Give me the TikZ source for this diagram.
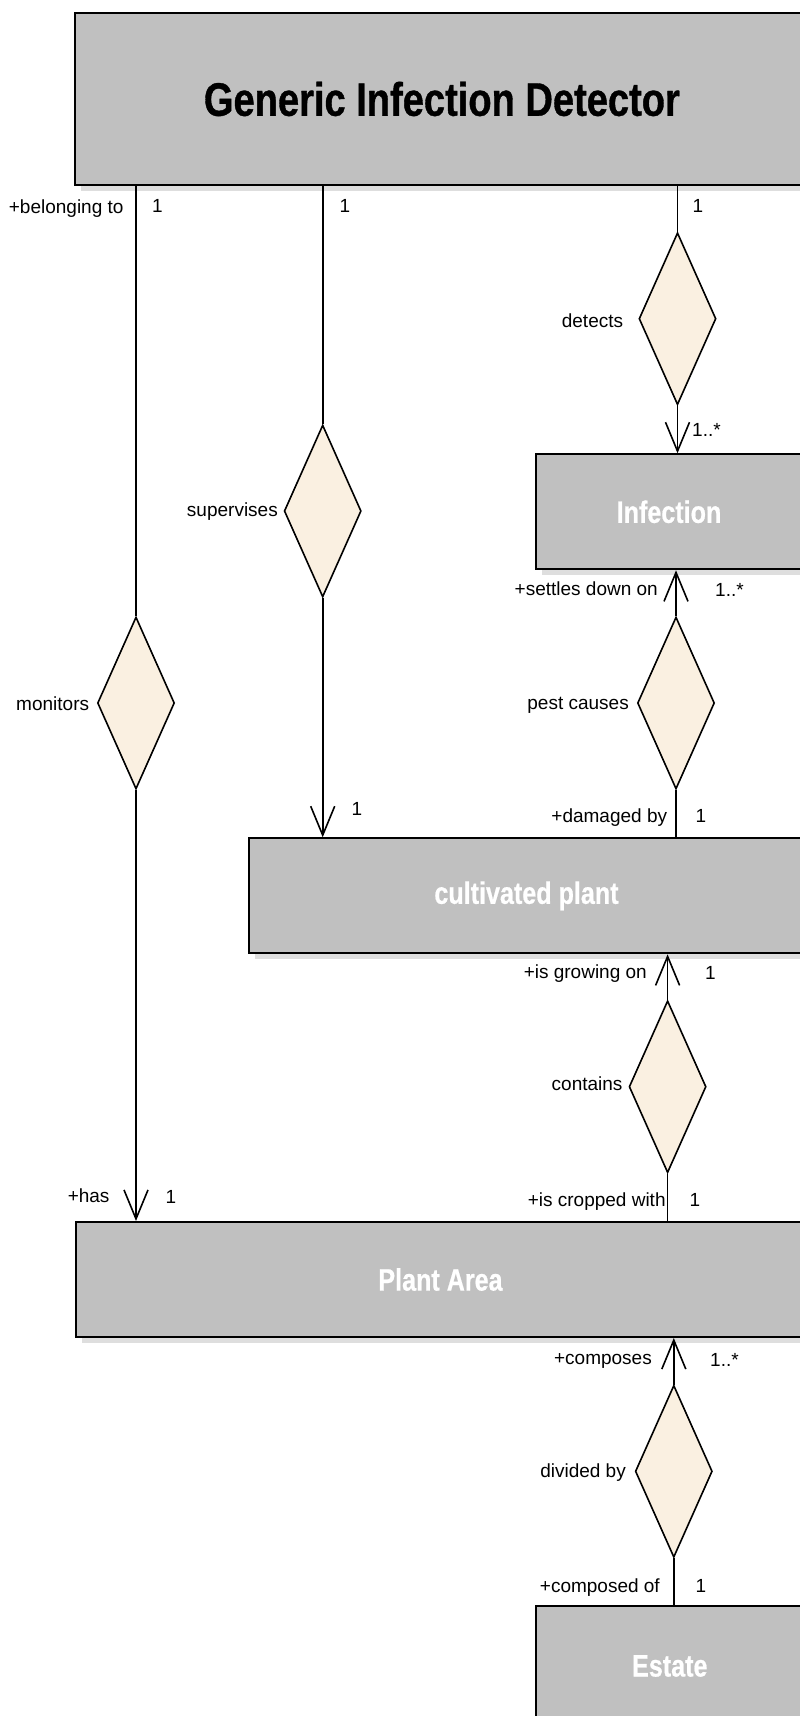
\documentclass[tikz,border=0pt]{standalone}
\usepackage{fontspec}
\setmainfont{Liberation Sans}
\newfontfamily\condA[FakeStretch=0.81,FakeBold=0.6]{Liberation Sans}
\newfontfamily\condB[FakeStretch=0.81,FakeBold=0.8]{Liberation Sans}
\usetikzlibrary{shapes.geometric,arrows.meta,shadows}
\definecolor{boxgray}{RGB}{192,192,192}
\definecolor{shadowgray}{RGB}{222,222,222}
\definecolor{cream}{RGB}{250,240,225}
\tikzset{
  cls/.style={rectangle, draw=black, line width=2pt, fill=boxgray, inner sep=0pt, anchor=north west,
    drop shadow={shadow xshift=6pt, shadow yshift=-6pt, fill=shadowgray, opacity=1}},
  clstext/.style={text=white, font=\condA\bfseries\fontsize{31}{31}\selectfont},
  rel/.style={diamond, draw=black, line width=1.6pt, fill=cream, inner sep=0pt, minimum width=77pt, minimum height=172pt},
  conn/.style={draw=black, line width=1.6pt},
  arr/.style={conn, -{Straight Barb[length=29pt, width=24pt]}},
  lbl/.style={inner sep=0pt, font=\fontsize{19}{19}\selectfont, text height=14pt, text depth=4pt},
}
\begin{document}
\begin{tikzpicture}[x=1pt, y=-1pt]
\useasboundingbox (0,0) rectangle (800,1716);
\clip (0,0) rectangle (800,1716);
\fill[white] (0,0) rectangle (800,1716);

% classes
\node[cls, minimum width=733pt, minimum height=172pt, font=\condB\bfseries\fontsize{47}{47}\selectfont] (gid) at (74.4,12) {Generic Infection Detector};
\node[cls, clstext, minimum width=265.4pt, minimum height=115pt] (inf) at (535.3,453.3) {Infection};
\node[cls, clstext, minimum width=555pt, minimum height=115pt] (cp) at (248,837.3) {cultivated plant};
\node[cls, clstext, minimum width=729pt, minimum height=115pt] (pa) at (75,1221) {Plant Area};
\node[cls, clstext, minimum width=267pt, minimum height=120pt] (est) at (535.3,1605) {Estate};

% relations
\node[rel] (mon) at (136,703) {};
\node[rel] (sup) at (322.7,511) {};
\node[rel] (det) at (677.5,318.7) {};
\node[rel] (pest) at (676,703) {};
\node[rel] (cont) at (667.6,1086.7) {};
\node[rel] (div) at (673.8,1471.3) {};

% connectors
\draw[conn] (mon.north |- gid.south) -- (mon.north);
\draw[arr] (mon.south) -- (mon.south |- pa.north);
\draw[conn] (sup.north |- gid.south) -- (sup.north);
\draw[arr] (sup.south) -- (sup.south |- cp.north);
\draw[conn] (det.north |- gid.south) -- (det.north);
\draw[arr] (det.south) -- (det.south |- inf.north);
\draw[arr] (pest.north) -- (pest.north |- inf.south);
\draw[conn] (pest.south) -- (pest.south |- cp.north);
\draw[arr] (cont.north) -- (cont.north |- cp.south);
\draw[conn] (cont.south) -- (cont.south |- pa.north);
\draw[arr] (div.north) -- (div.north |- pa.south);
\draw[conn] (div.south) -- (div.south |- est.north);

% labels
\node[lbl, anchor=east] (l1) at (123.7,208.5) {+belonging to};
\node[lbl, anchor=west] (l2) at (152,207.5) {1};
\node[lbl, anchor=west] (l3) at (339.5,207) {1};
\node[lbl, anchor=west] (l4) at (692.5,207) {1};
\node[lbl, anchor=east] (l5) at (623.3,322.5) {detects};
\node[lbl, anchor=west] (l6) at (692,431) {1..*};
\node[lbl, anchor=east] (l7) at (278,511.5) {supervises};
\node[lbl, anchor=west] (l8) at (351.5,810) {1};
\node[lbl, anchor=east] (l9) at (89.3,705.5) {monitors};
\node[lbl, anchor=east] (l10) at (658,590.5) {+settles down on};
\node[lbl, anchor=west] (l11) at (715,591) {1..*};
\node[lbl, anchor=east] (l12) at (629,704) {pest causes};
\node[lbl, anchor=east] (l13) at (667.3,817) {+damaged by};
\node[lbl, anchor=west] (l14) at (695.5,817) {1};
\node[lbl, anchor=east] (l15) at (647,973) {+is growing on};
\node[lbl, anchor=west] (l16) at (705,974) {1};
\node[lbl, anchor=east] (l17) at (622.7,1085.5) {contains};
\node[lbl, anchor=east] (l18) at (665.8,1201) {+is cropped with};
\node[lbl, anchor=west] (l19) at (689.5,1201) {1};
\node[lbl, anchor=east] (l20) at (109.7,1197) {+has};
\node[lbl, anchor=west] (l21) at (165.5,1198) {1};
\node[lbl, anchor=east] (l22) at (652,1359) {+composes};
\node[lbl, anchor=west] (l23) at (710,1361) {1..*};
\node[lbl, anchor=east] (l24) at (626,1472.5) {divided by};
\node[lbl, anchor=east] (l25) at (660,1587) {+composed of};
\node[lbl, anchor=west] (l26) at (695.5,1587) {1};
\end{tikzpicture}
\end{document}
